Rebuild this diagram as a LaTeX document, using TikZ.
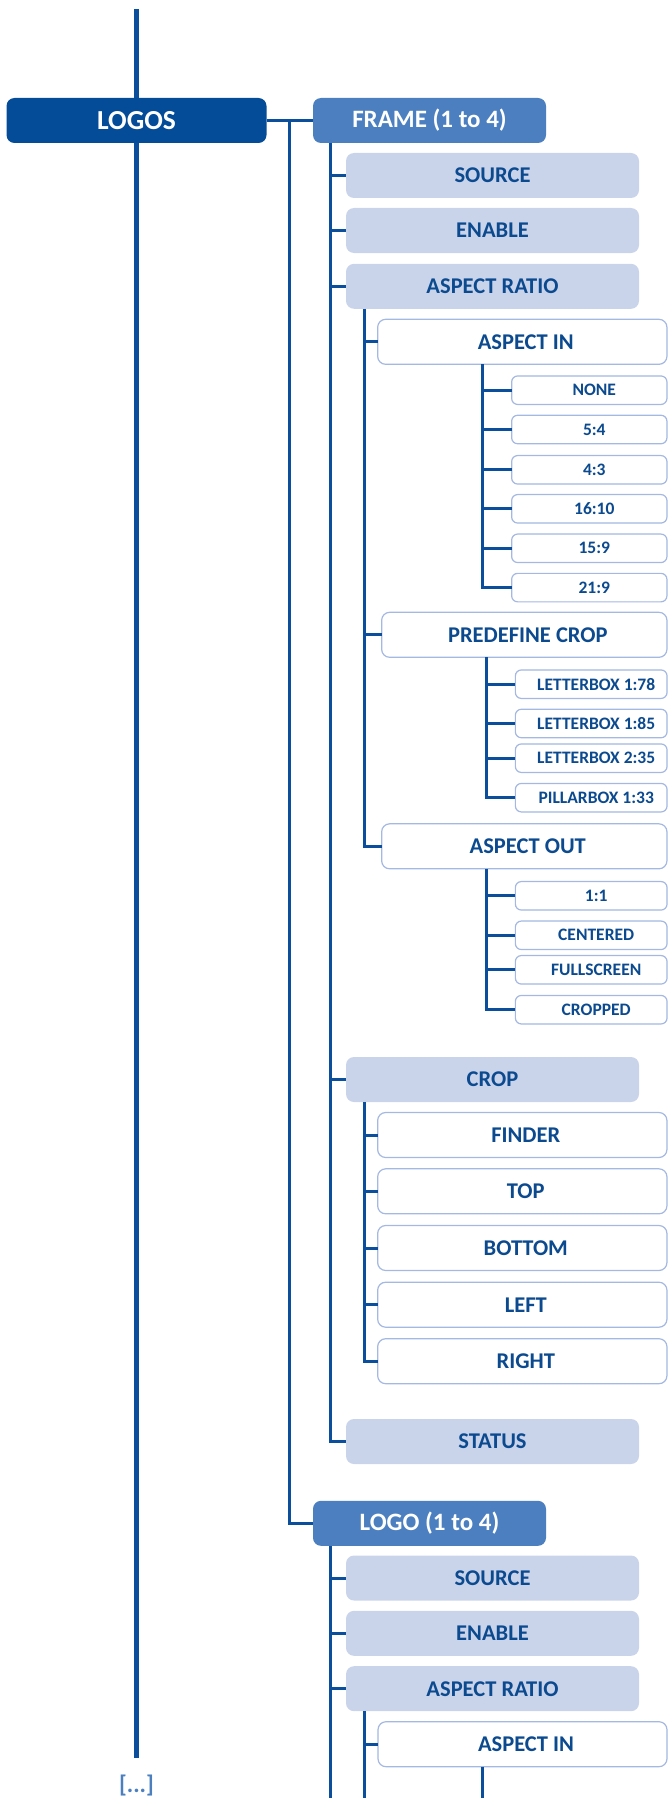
\documentclass[tikz,border=0pt]{standalone}
\usepackage{fontspec}
\setmainfont{Carlito}
\definecolor{linec}{HTML}{0B4F9C}
\definecolor{darkb}{HTML}{044C97}
\definecolor{midb}{HTML}{4B7FC0}
\definecolor{lightb}{HTML}{C9D4EB}
\definecolor{txtb}{HTML}{0C4A8F}
\definecolor{bordb}{HTML}{A4B8E2}
\begin{document}
\begin{tikzpicture}[x=1pt,y=-1pt,
  box/.style={rectangle, rounded corners=8pt, inner sep=0pt, outer sep=0pt, font=\fontsize{22.5}{24}\selectfont\bfseries},
  topbox/.style={box, fill=darkb, text=white, minimum width=260pt, minimum height=45pt, font=\fontsize{27.5}{29}\selectfont\bfseries},
  grpbox/.style={box, fill=midb, text=white, minimum width=233pt, minimum height=45pt, font=\fontsize{25}{27}\selectfont\bfseries},
  lbox/.style={box, fill=lightb, text=txtb, minimum width=293pt, minimum height=45pt},
  wbox/.style={box, fill=white, draw=bordb, line width=1.2pt, text=txtb, minimum height=45pt, execute at begin node={\hspace*{7pt}}},
  sbox/.style={box, rounded corners=6pt, fill=white, draw=bordb, line width=1.2pt, text=txtb, minimum height=28.5pt, font=\fontsize{17.5}{19}\selectfont\bfseries, execute at begin node={\hspace*{10pt}}},
  conn/.style={draw=linec, line width=3pt},
  mainl/.style={draw=linec, line width=5pt}
]
\useasboundingbox (0,0) rectangle (668,1798);

% coordinates
\coordinate (mtop) at (136.5,9);
\coordinate (mbot) at (136.5,1758.3);
\coordinate (bA) at (289.7,0);
\coordinate (bB) at (330.6,0);
\coordinate (bC) at (364.3,0);
\coordinate (bD) at (482.7,0);
\coordinate (bE) at (486,0);
\coordinate (bot) at (0,1798);

% nodes
\node[topbox] (logos) at (136.5,120.5) {LOGOS};
\node[grpbox] (frame) at (429.5,120.5) {FRAME (1 to 4)};
\node[lbox] (src1) at (492.5,175.5) {SOURCE};
\node[lbox] (en1) at (492.5,230.5) {ENABLE};
\node[lbox] (ar1) at (492.5,286.3) {ASPECT RATIO};
\node[wbox, minimum width=289.3pt] (ain1) at (522.3,341.8) {ASPECT IN};
\node[sbox, minimum width=155.3pt] (none) at (589.3,390.2) {NONE};
\node[sbox, minimum width=155.3pt] (r54) at (589.3,429.5) {5:4};
\node[sbox, minimum width=155.3pt] (r43) at (589.3,469.8) {4:3};
\node[sbox, minimum width=155.3pt] (r1610) at (589.3,508.8) {16:10};
\node[sbox, minimum width=155.3pt] (r159) at (589.3,548.3) {15:9};
\node[sbox, minimum width=155.3pt] (r219) at (589.3,587.6) {21:9};
\node[wbox, minimum width=285.3pt] (pcrop) at (524.3,634.8) {PREDEFINE CROP};
\node[sbox, minimum width=151.7pt] (lb178) at (591.2,684.2) {LETTERBOX 1:78};
\node[sbox, minimum width=151.7pt] (lb185) at (591.2,723.5) {LETTERBOX 1:85};
\node[sbox, minimum width=151.7pt] (lb235) at (591.2,758.2) {LETTERBOX 2:35};
\node[sbox, minimum width=151.7pt] (pb133) at (591.2,797.7) {PILLARBOX 1:33};
\node[wbox, minimum width=285.3pt] (aout) at (524.3,846.3) {ASPECT OUT};
\node[sbox, minimum width=151.7pt] (o11) at (591.2,895.8) {1:1};
\node[sbox, minimum width=151.7pt] (ocent) at (591.2,935.3) {CENTERED};
\node[sbox, minimum width=151.7pt] (ofull) at (591.2,969.8) {FULLSCREEN};
\node[sbox, minimum width=151.7pt] (ocrop) at (591.2,1009.7) {CROPPED};
\node[lbox] (crop) at (492.5,1079.5) {CROP};
\node[wbox, minimum width=289.3pt] (finder) at (522.3,1135) {FINDER};
\node[wbox, minimum width=289.3pt] (ctop) at (522.3,1191.3) {TOP};
\node[wbox, minimum width=289.3pt] (cbot) at (522.3,1248) {BOTTOM};
\node[wbox, minimum width=289.3pt] (cleft) at (522.3,1304.7) {LEFT};
\node[wbox, minimum width=289.3pt] (cright) at (522.3,1361.2) {RIGHT};
\node[lbox] (status) at (492.5,1441.5) {STATUS};
\node[grpbox] (logo) at (429.5,1523.3) {LOGO (1 to 4)};
\node[lbox] (src2) at (492.5,1578) {SOURCE};
\node[lbox] (en2) at (492.5,1633.3) {ENABLE};
\node[lbox] (ar2) at (492.5,1688.7) {ASPECT RATIO};
\node[wbox, minimum width=289pt] (ain2) at (522.5,1744.2) {ASPECT IN};
\node[text=midb, font=\fontsize{24}{26}\selectfont\bfseries] (more) at (136.5,1785) {[...]};

% main line
\draw[mainl] (mtop) -- (logos.north);
\draw[mainl] (logos.south) -- (mbot);

% level 1
\draw[conn] (logos.east) -- (frame.west);
\draw[conn] (bA |- logos.east) |- (logo.west);

% frame children
\draw[conn] (bB |- frame.south) |- (status.west);
\foreach \n in {src1,en1,ar1,crop} \draw[conn] (bB |- \n.west) -- (\n.west);

% aspect ratio children
\draw[conn] (bC |- ar1.south) |- (aout.west);
\foreach \n in {ain1,pcrop} \draw[conn] (bC |- \n.west) -- (\n.west);

% aspect in children
\draw[conn] (bD |- ain1.south) |- (r219.west);
\foreach \n in {none,r54,r43,r1610,r159} \draw[conn] (bD |- \n.west) -- (\n.west);

% predefine crop children
\draw[conn] (bE |- pcrop.south) |- (pb133.west);
\foreach \n in {lb178,lb185,lb235} \draw[conn] (bE |- \n.west) -- (\n.west);

% aspect out children
\draw[conn] (bE |- aout.south) |- (ocrop.west);
\foreach \n in {o11,ocent,ofull} \draw[conn] (bE |- \n.west) -- (\n.west);

% crop children
\draw[conn] (bC |- crop.south) |- (cright.west);
\foreach \n in {finder,ctop,cbot,cleft} \draw[conn] (bC |- \n.west) -- (\n.west);

% logo children
\draw[conn] (bB |- logo.south) -- (bB |- bot);
\foreach \n in {src2,en2,ar2} \draw[conn] (bB |- \n.west) -- (\n.west);
\draw[conn] (bC |- ar2.south) -- (bC |- bot);
\draw[conn] (bC |- ain2.west) -- (ain2.west);
\draw[conn] (bD |- ain2.south) -- (bD |- bot);
\end{tikzpicture}
\end{document}
